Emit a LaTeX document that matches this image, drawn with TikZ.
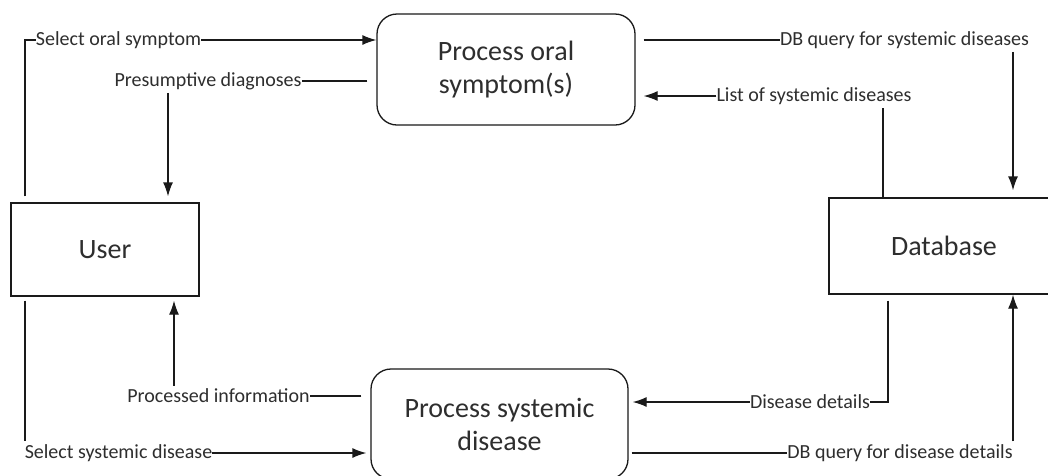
\documentclass[tikz,border=0pt]{standalone}
\usepackage{fontspec}
\setmainfont{Carlito}
\usetikzlibrary{arrows.meta}
\definecolor{txt}{HTML}{2E2E2E}
\definecolor{ln}{HTML}{1A1A1A}
\begin{document}
\begin{tikzpicture}[x=1pt,y=-1pt,
  every node/.style={text=txt},
  boxnode/.style={draw=ln,line width=1.3pt,inner sep=0pt,font=\fontsize{28}{33}\selectfont,align=center},
  procnode/.style={boxnode,rounded corners=20pt},
  lbl/.style={inner sep=0pt,font=\fontsize{20}{22}\selectfont,anchor=center},
  conn/.style={draw=ln,line width=1.3pt},
  arr/.style={conn,-{Latex[length=14pt,width=10pt]}}]
\useasboundingbox (0,0) rectangle (1048,475);
\clip (0,0) rectangle (1048,475);
\fill[white] (0,0) rectangle (1048,475);
% boxes
\node[boxnode,minimum width=188pt,minimum height=93pt] (user) at (105,249.5) {User};
\node[boxnode,minimum width=230pt,minimum height=96pt] (db) at (944,246) {Database};
\node[procnode,minimum width=258pt,minimum height=111pt] (oral) at (506,69.5) {Process oral\\symptom(s)};
\node[procnode,minimum width=257pt,minimum height=110pt] (sys) at (499.5,424) {Process systemic\\disease};
% labels
\node[lbl] (l1) at (118.5,40) {Select oral symptom};
\node[lbl] (l2) at (208,81) {Presumptive diagnoses};
\node[lbl] (l3) at (904.5,40) {DB query for systemic diseases};
\node[lbl] (l4) at (814,96) {List of systemic diseases};
\node[lbl] (l5) at (218.5,396) {Processed information};
\node[lbl] (l6) at (118.5,453) {Select systemic disease};
\node[lbl] (l7) at (810,402) {Disease details};
\node[lbl] (l8) at (900,453) {DB query for disease details};
% 1 select oral symptom
\draw[conn] ([yshift=6pt]user.north -| 25,0) |- (l1.west);
\draw[arr] (l1.east) -- (oral.west |- l1);
% 2 presumptive diagnoses
\draw[conn,shorten <=9pt] (oral.west |- l2) -- (l2.east);
\draw[arr,shorten >=6pt] ([yshift=-3pt]l2.south -| 168,0) -- (user.north -| 168,0);
% 3 DB query for systemic diseases
\draw[conn,shorten <=8pt] (oral.east |- l3) -- (l3.west);
\draw[arr,shorten >=7pt] ([yshift=-3pt]l3.south -| 1013,0) -- (db.north -| 1013,0);
% 4 list of systemic diseases
\draw[conn] (db.north -| 883,0) -- ([yshift=-3pt]l4.south -| 883,0);
\draw[arr,shorten >=8pt] (l4.west) -- (oral.east |- l4);
% 5 processed information
\draw[conn,shorten <=9pt] (sys.west |- l5) -- (l5.east);
\draw[arr,shorten >=4pt] ([yshift=3pt]l5.north -| 174,0) -- (user.south -| 174,0);
% 6 select systemic disease
\draw[conn] ([yshift=-4pt]user.south -| 25,0) -- ([yshift=3pt]l6.north -| 25,0);
\draw[arr,shorten >=4pt] (l6.east) -- (sys.west |- l6);
% 7 disease details
\draw[conn] ([yshift=-6pt]db.south -| 888,0) |- (l7.east);
\draw[arr,shorten >=4pt] (l7.west) -- (sys.east |- l7);
% 8 DB query for disease details
\draw[conn,shorten <=3pt] (sys.east |- l8) -- (l8.west);
\draw[arr] ([yshift=3pt]l8.north -| 1013,0) -- (db.south -| 1013,0);
\end{tikzpicture}
\end{document}
